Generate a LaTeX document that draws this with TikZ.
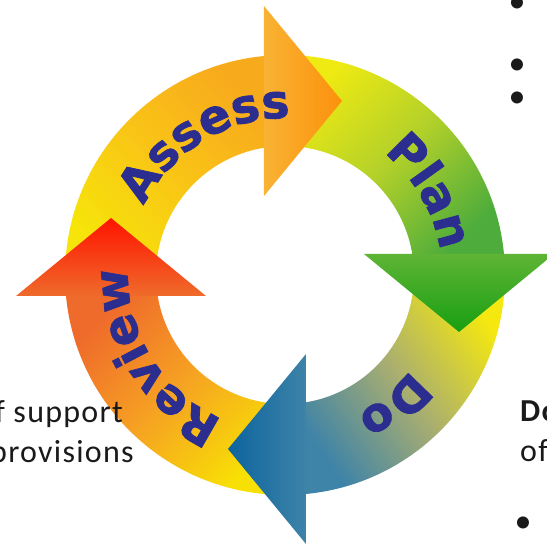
\documentclass[tikz,border=0pt]{standalone}
\usepackage{fontspec}
\usepackage{tikz}
\usetikzlibrary{decorations.text}
\newfontfamily\cyclefont[BoldFeatures={FakeBold=1.6}]{DejaVu Sans}
\newfontfamily\slidefont[LetterSpace=4]{Carlito}
\newcommand{\ringlabelfont}{\cyclefont\bfseries\fontsize{47}{47}\selectfont}
\definecolor{labelblue}{HTML}{2B2E8E}
\definecolor{slidegray}{HTML}{1A1A1A}
\definecolor{assessA}{HTML}{F6E40A}
\definecolor{assessB}{HTML}{F9C416}
\definecolor{assessC}{HTML}{F8AA1D}
\definecolor{planA}{HTML}{EEEA12}
\definecolor{planB}{HTML}{B2D02A}
\definecolor{planC}{HTML}{4DAC3B}
\definecolor{doA}{HTML}{F4E810}
\definecolor{doB}{HTML}{A9AE70}
\definecolor{doC}{HTML}{3E83A8}
\definecolor{reviewA}{HTML}{F8E004}
\definecolor{reviewB}{HTML}{F6A322}
\definecolor{reviewC}{HTML}{EF6B2B}
\tikzstyle{assessbody} = [bottom color=assessA, top color=assessC, middle color=assessB, shading angle=-45]
\tikzstyle{planbody} = [bottom color=planA, top color=planC, middle color=planB, shading angle=-135]
\tikzstyle{dobody} = [bottom color=doA, top color=doC, middle color=doB, shading angle=125]
\tikzstyle{reviewbody} = [bottom color=reviewA, top color=reviewC, middle color=reviewB, shading angle=45]
\tikzstyle{assesshead} = [left color=assessC!90!white, right color=orange!60!assessC]
\tikzstyle{planhead} = [top color=planC!90!yellow, bottom color=green!60!black!70!planC]
\tikzstyle{dohead} = [left color=blue!40!cyan!60!black!95, right color=doC]
\tikzstyle{reviewhead} = [top color=red!85!orange, bottom color=reviewC]
\tikzstyle{cyclelabel} = [decorate, decoration={text along path, text align=center, text color=labelblue}]
\tikzstyle{slidetext} = [inner sep=0pt, anchor=base west, text=slidegray, font=\slidefont\fontsize{32}{40}\selectfont]
\tikzstyle{slidebullet} = [inner sep=0pt, anchor=base, text=slidegray, font=\slidefont\fontsize{34}{40}\selectfont]

\begin{document}
\begin{tikzpicture} [x=1pt, y=1pt]

    \clip (-285,-271) rectangle (262,275);

    % the arrow bodies
    \shade [assessbody] (180:220) arc [start angle=180, end angle=93.9, radius=220] -- (96.68:129) arc [start angle=96.68, end angle=180, radius=129] -- cycle;
    \shade [planbody] (90:220) arc [start angle=90, end angle=3.9, radius=220] -- (6.68:129) arc [start angle=6.68, end angle=90, radius=129] -- cycle;
    \shade [dobody] (0:220) arc [start angle=0, end angle=-86.1, radius=220] -- (-83.32:129) arc [start angle=-83.32, end angle=0, radius=129] -- cycle;
    \shade [reviewbody] (270:220) arc [start angle=270, end angle=183.9, radius=220] -- (186.68:129) arc [start angle=186.68, end angle=270, radius=129] -- cycle;

    % the arrow heads
    \shade [assesshead] (-21,269) -- (57,174) -- (-21,79) -- cycle;
    \shade [planhead] (269,21) -- (174,-57) -- (79,21) -- cycle;
    \shade [dohead] (21,-269) -- (-57,-174) -- (21,-79) -- cycle;
    \shade [reviewhead] (-269,-21) -- (-174,57) -- (-79,-21) -- cycle;

    % the labels on the ring
    \path [cyclelabel, decoration={text={|\ringlabelfont|Assess}}] (166:157) arc [start angle=166, end angle=76, radius=157];
    \path [cyclelabel, decoration={text={|\ringlabelfont|Plan}}] (75:157) arc [start angle=75, end angle=-15, radius=157];
    \path [cyclelabel, decoration={text={|\ringlabelfont|Do}}] (-5:157) arc [start angle=-5, end angle=-95, radius=157];
    \path [cyclelabel, decoration={text={|\ringlabelfont|Review}}] (257:157) arc [start angle=257, end angle=167, radius=157];

    % text of the slide round it
    \node (support) [slidetext] at (-290,-148) {f support};
    \node (provisions) [slidetext] at (-295,-188) {provisions};
    \node (doword) [slidetext, font=\slidefont\bfseries\fontsize{32}{40}\selectfont] at (235,-147) {Do};
    \node (ofword) [slidetext] at (235,-187) {of};

    \node (bulletA) [slidebullet] at (232,262) {•};
    \node (bulletB) [slidebullet] at (232,200) {•};
    \node (bulletC) [slidebullet] at (232,167) {•};
    \node (bulletD) [slidebullet] at (238,-258) {•};

\end{tikzpicture}
\end{document}
